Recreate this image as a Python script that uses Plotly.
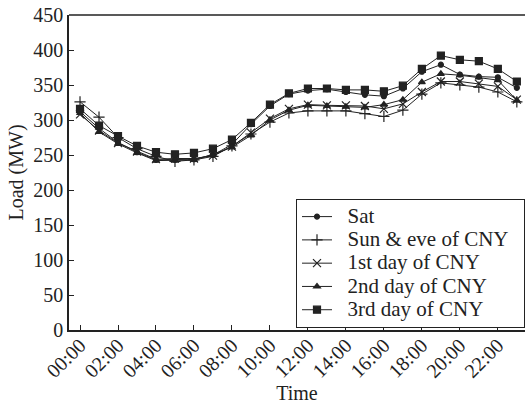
import plotly.graph_objects as go

hours = list(range(24))
tick_vals = [0, 2, 4, 6, 8, 10, 12, 14, 16, 18, 20, 22]
tick_text = ["00:00", "02:00", "04:00", "06:00", "08:00", "10:00",
             "12:00", "14:00", "16:00", "18:00", "20:00", "22:00"]

sat = [312, 288, 268, 254, 243, 243, 244, 250, 265, 294, 320, 337,
       342, 344, 340, 336, 334, 345, 369, 379, 365, 362, 361, 346]
sun_eve = [326, 304, 275, 259, 248, 241, 243, 248, 263, 280, 297, 310,
           313, 313, 313, 309, 305, 314, 337, 353, 350, 347, 340, 326]
day1 = [308, 285, 267, 255, 244, 245, 245, 249, 262, 282, 302, 316,
        322, 321, 321, 320, 316, 323, 340, 355, 355, 352, 348, 329]
day2 = [310, 283, 266, 253, 242, 242, 243, 251, 261, 278, 300, 314,
        321, 320, 319, 318, 322, 329, 354, 366, 364, 361, 357, 328]
day3 = [316, 292, 277, 263, 254, 251, 253, 259, 272, 296, 322, 338,
        345, 345, 343, 343, 341, 349, 373, 392, 386, 384, 373, 355]

series_names = ["Sat", "Sun & eve of CNY", "1st day of CNY",
                "2nd day of CNY", "3rd day of CNY"]
series_values = [sat, sun_eve, day1, day2, day3]
symbols = ["circle", "cross-thin-open", "x-thin-open", "triangle-up", "square"]
sizes = [5, 8, 8, 6, 7]

ink = "#222222"
font_family = "Liberation Serif"
nb = "\u00a0"

fig = go.Figure()
for name, vals, sym, size in zip(series_names, series_values, symbols, sizes):
    label = nb * 2 + name.replace("&", "&amp;") + nb * 2
    fig.add_trace(go.Scatter(
        x=hours, y=vals, mode="lines+markers",
        name='<span style="font-size:21px">' + label + "</span>",
        line=dict(color=ink, width=1),
        marker=dict(symbol=sym, size=size, color=ink,
                    line=dict(color=ink, width=1.2)),
    ))

fig.update_layout(
    width=525, height=405,
    margin=dict(l=69, r=0, t=15, b=75),
    paper_bgcolor="white", plot_bgcolor="white",
    font=dict(family=font_family, size=20, color=ink),
    showlegend=True,
    legend=dict(
        x=0.498, y=0.416, xanchor="left", yanchor="top",
        bgcolor="white", bordercolor=ink, borderwidth=1,
        font=dict(family=font_family, size=15.6), tracegroupgap=0,
    ),
    xaxis=dict(
        range=[-0.58, 23.43], tickvals=tick_vals, ticktext=tick_text,
        tickangle=-45, ticks="inside", ticklen=5, tickcolor=ink,
        tickfont=dict(family=font_family, size=20),
        ticklabelstandoff=-6,
        showline=True, linecolor=ink, linewidth=1.5, mirror=False,
        showgrid=False, zeroline=False, automargin=False,
        title=dict(text="Time", standoff=4,
                   font=dict(family=font_family, size=20)),
    ),
    yaxis=dict(
        range=[0, 450], dtick=50, ticks="inside", ticklen=5, tickcolor=ink,
        tickfont=dict(family=font_family, size=20),
        showline=True, linecolor=ink, linewidth=1.5, mirror=False,
        showgrid=False, zeroline=False, automargin=False,
        title=dict(text="Load (MW)", standoff=4,
                   font=dict(family=font_family, size=20)),
    ),
    shapes=[dict(type="line", xref="paper", yref="paper",
                 x0=0, x1=1, y0=1, y1=1,
                 line=dict(color=ink, width=1.5))],
)

fig.write_html(
    "out.html",
    config={"displayModeBar": False},
    post_script="document.body.style.margin='0';document.body.style.overflow='hidden';",
)
